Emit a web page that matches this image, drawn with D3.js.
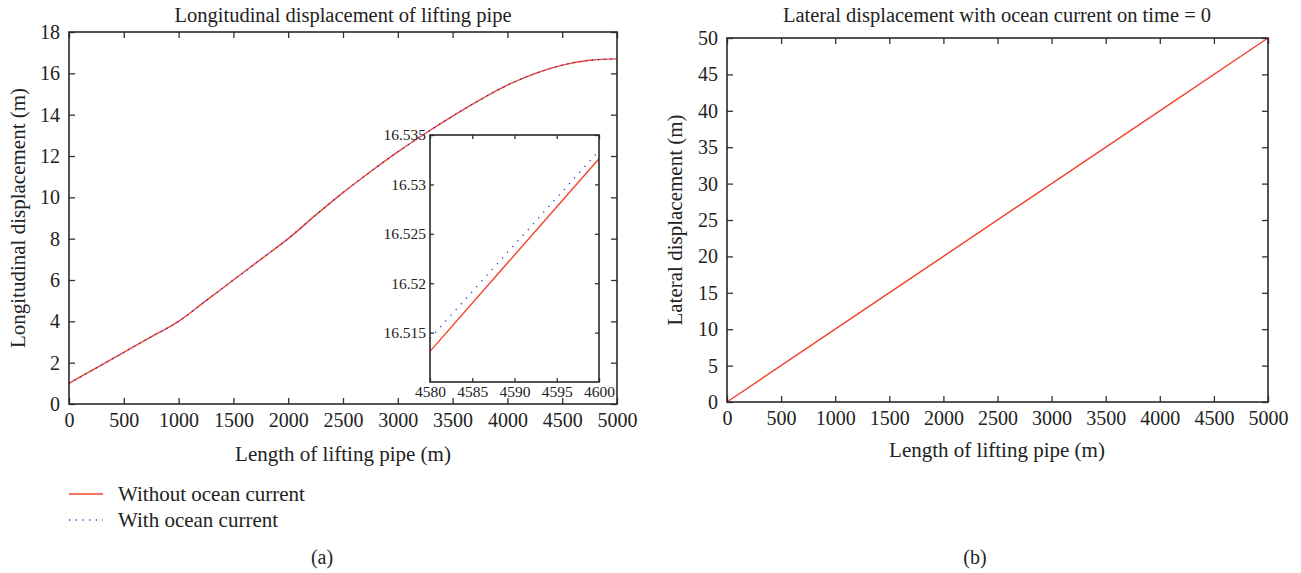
<!DOCTYPE html>
<html>
<head>
<meta charset="utf-8">
<script src="https://cdn.jsdelivr.net/npm/d3@7"></script>
<style>
  body { margin: 0; background: #fff; }
  svg { display: block; font-family: "Liberation Serif", "DejaVu Serif", serif; }
  .axis text { fill: #222; font-family: "Liberation Serif", "DejaVu Serif", serif; }
  .axis line { stroke: #333; stroke-width: 1.3; }
  .axis path { display: none; }
</style>
</head>
<body>
<div id="chart"></div>
<script>
// Data
const lengthM = [0, 250, 500, 750, 1000, 1250, 1500, 1750, 2000, 2250, 2500, 2750, 3000, 3250, 3500, 3750, 4000, 4250, 4500, 4750, 5000];
const withoutCurrent = [1.0, 1.75, 2.5, 3.25, 4.0, 5.0, 6.0, 7.0, 8.0, 9.14, 10.23, 11.24, 12.2, 13.09, 13.93, 14.72, 15.43, 15.99, 16.4, 16.63, 16.7];
const withCurrent = [1.0, 1.75, 2.5, 3.25, 4.0, 5.0, 6.0, 7.0, 8.0, 9.14, 10.23, 11.24, 12.2, 13.09, 13.93, 14.72, 15.43, 15.99, 16.4, 16.63, 16.7];

// Zoomed inset (4580 m - 4600 m)
const insetLength = [4580, 4600];
const insetWithout = [16.5131, 16.5326];
const insetWith = [16.5144, 16.5334];

// Lateral displacement on time = 0
const lateralLength = [0, 1000, 2000, 3000, 4000, 5000];
const lateralDisp = [0, 10, 20, 30, 40, 50];

const xTicks = [0, 500, 1000, 1500, 2000, 2500, 3000, 3500, 4000, 4500, 5000];
const yTicksA = [0, 2, 4, 6, 8, 10, 12, 14, 16, 18];
const yTicksB = [0, 5, 10, 15, 20, 25, 30, 35, 40, 45, 50];
const insetXTicks = [4580, 4585, 4590, 4595, 4600];
const insetYTicks = [16.515, 16.52, 16.525, 16.53, 16.535];

const red = "#f2432b";
const blue = "#2b2bd6";

const svg = d3.select("#chart").append("svg")
    .attr("width", 1301)
    .attr("height", 573);

// box with inward ticks on all four sides
function frame(g, x, y, tx, ty, tickSize, fontSize, pad) {
    const [x0, x1] = x.range();
    const [y1, y0] = y.range();
    const fmt = d => d3.format("")(+d.toFixed(4));
    const fix = sel => sel.selectAll("text").style("font-size", fontSize + "px");
    g.append("g").attr("class", "axis")
        .attr("transform", `translate(0,${y1})`)
        .call(d3.axisBottom(x).tickValues(tx).tickSize(-tickSize).tickSizeOuter(0).tickPadding(pad).tickFormat(fmt))
        .call(fix);
    g.append("g").attr("class", "axis")
        .attr("transform", `translate(0,${y0})`)
        .call(d3.axisTop(x).tickValues(tx).tickSize(-tickSize).tickSizeOuter(0).tickFormat(""));
    g.append("g").attr("class", "axis")
        .attr("transform", `translate(${x0},0)`)
        .call(d3.axisLeft(y).tickValues(ty).tickSize(-tickSize).tickSizeOuter(0).tickPadding(pad).tickFormat(fmt))
        .call(fix);
    g.append("g").attr("class", "axis")
        .attr("transform", `translate(${x1},0)`)
        .call(d3.axisRight(y).tickValues(ty).tickSize(-tickSize).tickSizeOuter(0).tickFormat(""));
    g.append("rect")
        .attr("x", x0).attr("y", y0)
        .attr("width", x1 - x0).attr("height", y1 - y0)
        .attr("fill", "none").attr("stroke", "#2a2a2a").attr("stroke-width", 1.6);
}

// ---------- (a) Longitudinal displacement ----------
const gA = svg.append("g");
const xA = d3.scaleLinear().domain([0, 5000]).range([69, 617]);
const yA = d3.scaleLinear().domain([0, 18]).range([404, 32]);

const lineA = d3.line().curve(d3.curveMonotoneX).x(d => xA(d[0])).y(d => yA(d[1]));

gA.append("path")
    .datum(lengthM.map((m, i) => [m, withoutCurrent[i]]))
    .attr("d", lineA)
    .attr("fill", "none").attr("stroke", red).attr("stroke-width", 1.4);
gA.append("path")
    .datum(lengthM.map((m, i) => [m, withCurrent[i]]))
    .attr("d", lineA)
    .attr("fill", "none").attr("stroke", blue).attr("stroke-width", 1.3)
    .attr("stroke-dasharray", "1.2,5");

frame(gA, xA, yA, xTicks, yTicksA, 6, 20, 9);

gA.append("text")
    .attr("x", 343).attr("y", 22)
    .attr("text-anchor", "middle")
    .style("font-size", "20.5px").attr("fill", "#222")
    .text("Longitudinal displacement of lifting pipe");
gA.append("text")
    .attr("x", 343).attr("y", 461)
    .attr("text-anchor", "middle")
    .style("font-size", "21px").attr("fill", "#222")
    .text("Length of lifting pipe (m)");
gA.append("text")
    .attr("transform", "translate(25,218) rotate(-90)")
    .attr("text-anchor", "middle")
    .style("font-size", "21px").attr("fill", "#222")
    .text("Longitudinal displacement (m)");

// inset
const xI = d3.scaleLinear().domain([4580, 4600]).range([430, 599]);
const yI = d3.scaleLinear().domain([16.51, 16.535]).range([382, 135]);
const gI = gA.append("g");
gI.append("rect")
    .attr("x", 430).attr("y", 135).attr("width", 169).attr("height", 247)
    .attr("fill", "#fff");
const lineI = d3.line().x(d => xI(d[0])).y(d => yI(d[1]));
gI.append("path")
    .datum(insetLength.map((m, i) => [m, insetWithout[i]]))
    .attr("d", lineI)
    .attr("fill", "none").attr("stroke", red).attr("stroke-width", 1.4);
gI.append("path")
    .datum(insetLength.map((m, i) => [m, insetWith[i]]))
    .attr("d", lineI)
    .attr("fill", "none").attr("stroke", blue).attr("stroke-width", 1.3)
    .attr("stroke-dasharray", "1.2,6.5");
frame(gI, xI, yI, insetXTicks, insetYTicks, 4, 15.5, 4);

// legend
const legend = gA.append("g");
legend.append("line")
    .attr("x1", 69).attr("x2", 103).attr("y1", 494).attr("y2", 494)
    .attr("stroke", red).attr("stroke-width", 1.4);
legend.append("line")
    .attr("x1", 69).attr("x2", 103).attr("y1", 520).attr("y2", 520)
    .attr("stroke", blue).attr("stroke-width", 1.3).attr("stroke-dasharray", "1.2,5.5");
legend.append("text")
    .attr("x", 118).attr("y", 501)
    .style("font-size", "21px").attr("fill", "#222")
    .text("Without ocean current");
legend.append("text")
    .attr("x", 118).attr("y", 527)
    .style("font-size", "21px").attr("fill", "#222")
    .text("With ocean current");

gA.append("text")
    .attr("x", 322).attr("y", 564)
    .attr("text-anchor", "middle")
    .style("font-size", "20px").attr("fill", "#222")
    .text("(a)");

// ---------- (b) Lateral displacement ----------
const gB = svg.append("g");
const xB = d3.scaleLinear().domain([0, 5000]).range([727, 1268]);
const yB = d3.scaleLinear().domain([0, 50]).range([402, 38]);

gB.append("path")
    .datum(lateralLength.map((m, i) => [m, lateralDisp[i]]))
    .attr("d", d3.line().x(d => xB(d[0])).y(d => yB(d[1])))
    .attr("fill", "none").attr("stroke", red).attr("stroke-width", 1.4);

frame(gB, xB, yB, xTicks, yTicksB, 6, 20, 9);

gB.append("text")
    .attr("x", 997).attr("y", 22)
    .attr("text-anchor", "middle")
    .style("font-size", "20.5px").attr("fill", "#222")
    .text("Lateral displacement with ocean current on time = 0");
gB.append("text")
    .attr("x", 997).attr("y", 457)
    .attr("text-anchor", "middle")
    .style("font-size", "21px").attr("fill", "#222")
    .text("Length of lifting pipe (m)");
gB.append("text")
    .attr("transform", "translate(682,220) rotate(-90)")
    .attr("text-anchor", "middle")
    .style("font-size", "21px").attr("fill", "#222")
    .text("Lateral displacement (m)");

gB.append("text")
    .attr("x", 975).attr("y", 564)
    .attr("text-anchor", "middle")
    .style("font-size", "20px").attr("fill", "#222")
    .text("(b)");
</script>
</body>
</html>
